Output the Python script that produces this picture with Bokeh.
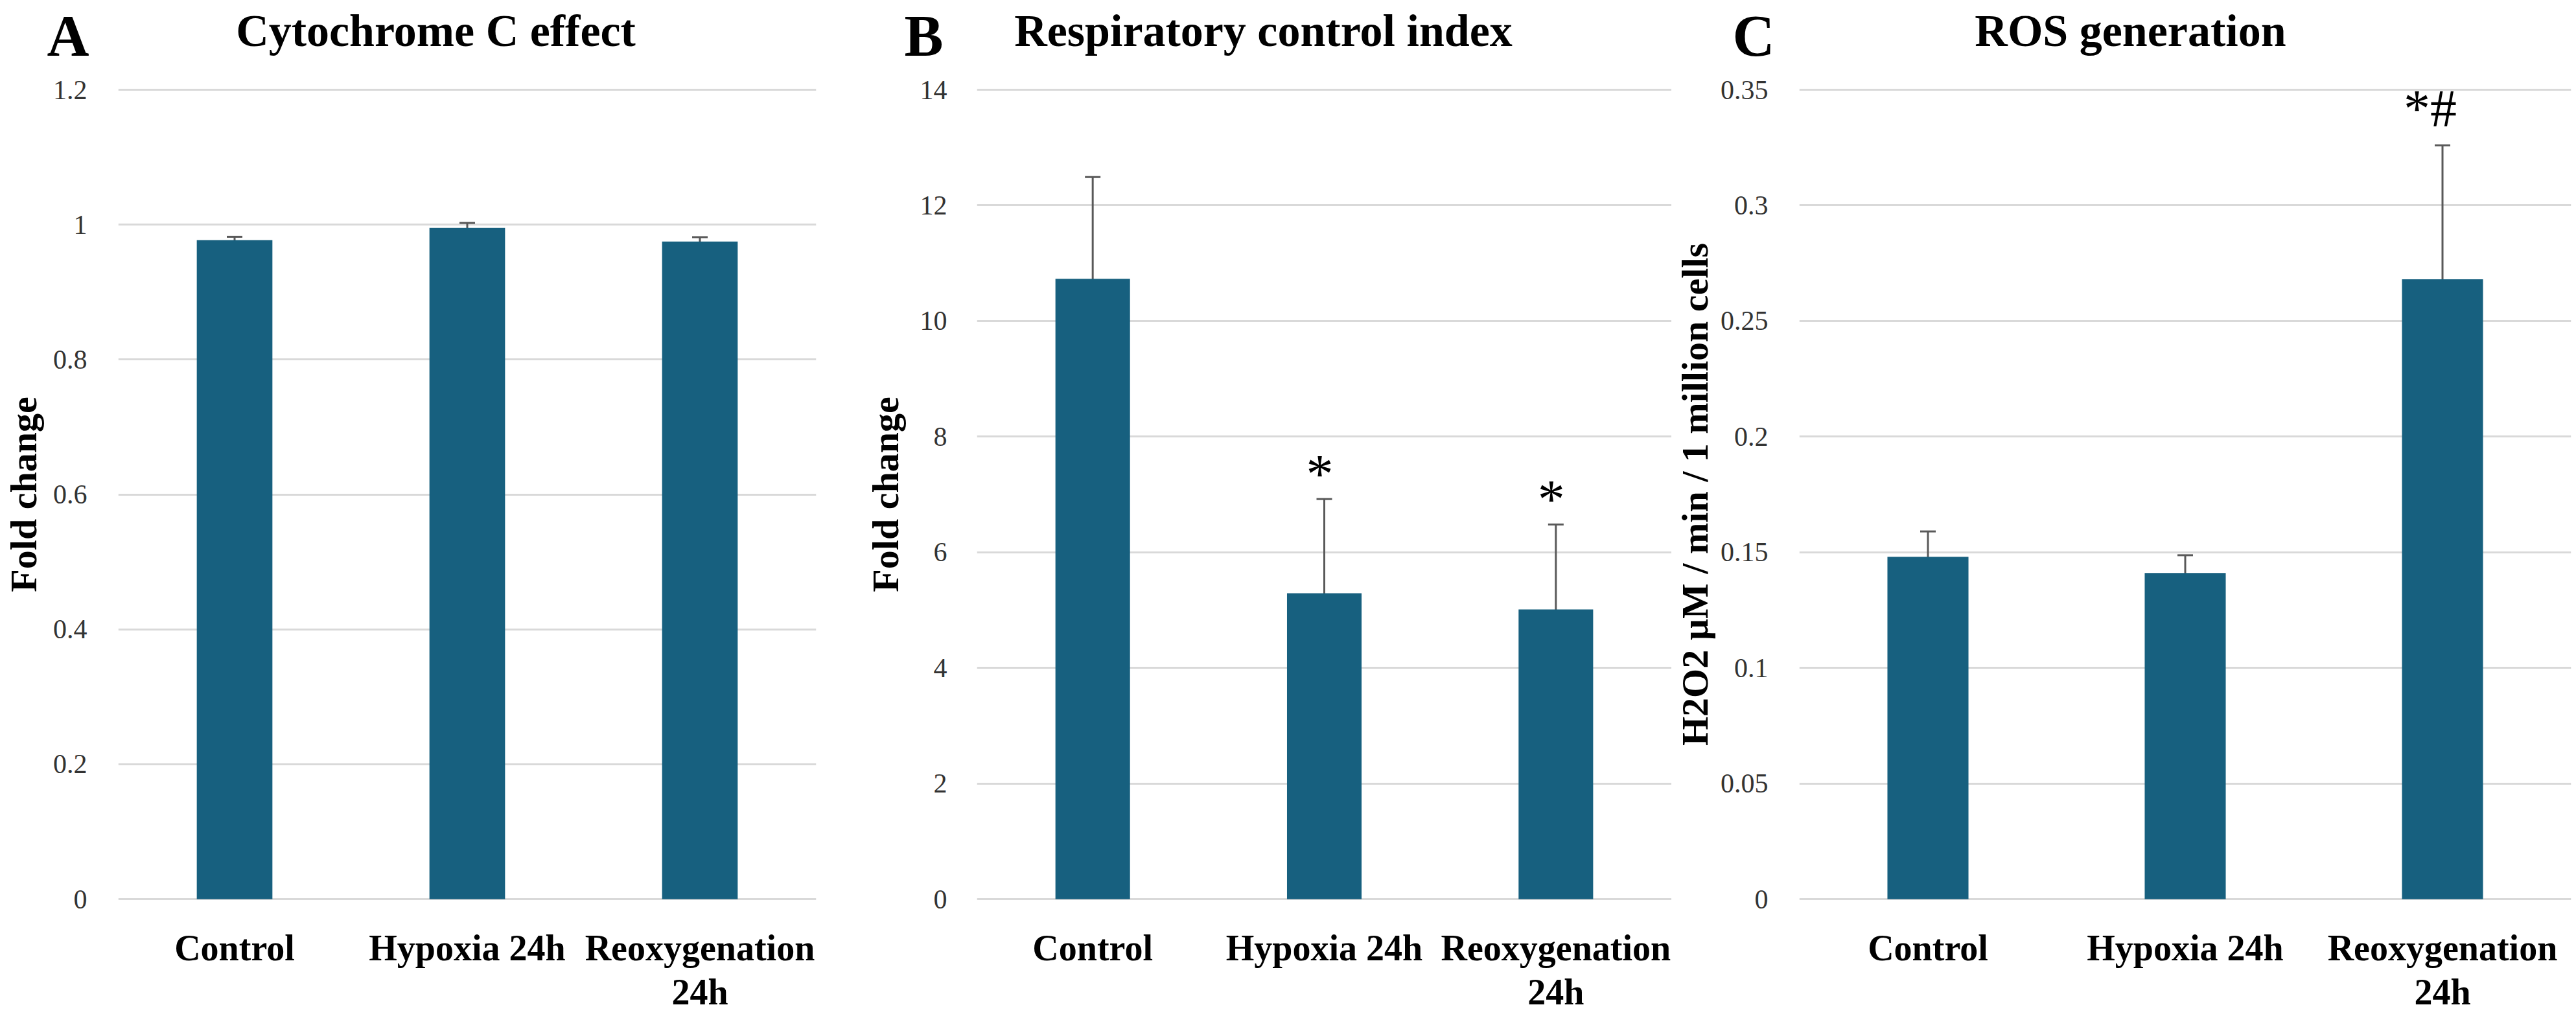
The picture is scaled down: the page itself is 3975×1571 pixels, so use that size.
from bokeh.plotting import figure
from bokeh.models import (ColumnDataSource, Range1d, FixedTicker, Whisker, TeeHead,
                          Label, CustomJSTickFormatter)
from bokeh.layouts import row, column
from bokeh.embed import file_html
from bokeh.resources import INLINE
from bokeh.core.properties import value

# ---------------- data ----------------
categories = ["Control", "Hypoxia 24h", "Reoxygenation\n24h"]

cyto_mean = [0.977, 0.995, 0.975]
cyto_err = [0.005, 0.0075, 0.0065]
cyto_ticks = [0, 0.2, 0.4, 0.6, 0.8, 1, 1.2]
cyto_tick_labels = ["0", "0.2", "0.4", "0.6", "0.8", "1", "1.2"]
cyto_sig = ["", "", ""]

rci_mean = [10.73, 5.29, 5.01]
rci_err = [1.76, 1.63, 1.47]
rci_ticks = [0, 2, 4, 6, 8, 10, 12, 14]
rci_tick_labels = ["0", "2", "4", "6", "8", "10", "12", "14"]
rci_sig = ["", "*", "*"]

ros_mean = [0.148, 0.141, 0.268]
ros_err = [0.011, 0.0077, 0.058]
ros_ticks = [0, 0.05, 0.1, 0.15, 0.2, 0.25, 0.3, 0.35]
ros_tick_labels = ["0", "0.05", "0.1", "0.15", "0.2", "0.25", "0.3", "0.35"]
ros_sig = ["", "", "*#"]

titles = ["Cytochrome C effect", "Respiratory control index", "ROS generation"]
letters = ["A", "B", "C"]
y_labels = ["Fold change", "Fold change", "H2O2 \u00b5M / min / 1 million cells"]

# ---------------- style ----------------
BAR = "#17607f"
ERR = "#595959"
GRID = "#d9d9d9"
FONT = "Liberation Serif"
FRAME_H = 1253          # data area 1249 px plus 2 px each side
HEADER_H = 106
TOP_BORDER = 30
TOTAL_W = 3959


def make_panel(ylabel, means, errs, ticks, tick_labels, sig,
               bar_width, frame_w, b_left, b_right, tick_standoff, label_standoff,
               sig_size, sig_dx, sig_dy):
    pad = (ticks[-1] - ticks[0]) * 2.0 / 1249
    p = figure(x_range=categories, y_range=Range1d(ticks[0] - pad, ticks[-1] + pad),
               frame_width=frame_w, frame_height=FRAME_H,
               min_border_left=b_left, min_border_right=b_right,
               min_border_top=TOP_BORDER, min_border_bottom=150,
               output_backend="svg", toolbar_location=None,
               background_fill_color="white", border_fill_color="white",
               outline_line_color=None)
    upper = [m + e for m, e in zip(means, errs)]
    lower = [m - e for m, e in zip(means, errs)]
    src = ColumnDataSource(dict(cat=categories, mean=means, upper=upper, lower=lower))
    p.vbar(x="cat", top="mean", width=bar_width, source=src,
           fill_color=BAR, line_color=None)
    w = Whisker(base="cat", upper="upper", lower="lower", source=src,
                line_color=ERR, line_width=3,
                upper_head=TeeHead(size=24, line_color=ERR, line_width=3),
                lower_head=TeeHead(size=24, line_color=ERR, line_width=3))
    p.add_layout(w)

    sx = [c for c, s in zip(categories, sig) if s]
    sy = [u for u, s in zip(upper, sig) if s]
    st = [s for s in sig if s]
    if st:
        p.text(x=sx, y=sy, text=st, text_font=value(FONT),
               text_font_size=value(sig_size), text_color="black",
               text_align="center", text_baseline="alphabetic",
               x_offset=sig_dx, y_offset=sig_dy)

    # x axis
    p.xaxis.axis_line_color = None
    p.xaxis.major_tick_line_color = None
    p.xaxis.minor_tick_line_color = None
    p.xaxis.major_label_text_font = FONT
    p.xaxis.major_label_text_font_style = "bold"
    p.xaxis.major_label_text_font_size = "56px"
    p.xaxis.major_label_text_color = "black"
    p.xaxis.major_label_text_line_height = 1.1
    p.xaxis.major_label_standoff = 36

    # y axis
    p.yaxis.ticker = FixedTicker(ticks=ticks)
    p.yaxis.formatter = CustomJSTickFormatter(
        args=dict(tick_vals=ticks, tick_texts=tick_labels),
        code="const i = tick_vals.indexOf(tick); return i >= 0 ? tick_texts[i] : '';")
    p.yaxis.axis_line_color = None
    p.yaxis.major_tick_line_color = None
    p.yaxis.minor_tick_line_color = None
    p.yaxis.major_label_text_font = FONT
    p.yaxis.major_label_text_font_size = "42px"
    p.yaxis.major_label_text_color = "#333333"
    p.yaxis.major_label_standoff = tick_standoff
    p.yaxis.axis_label = ylabel
    p.yaxis.axis_label_text_font = FONT
    p.yaxis.axis_label_text_font_style = "bold"
    p.yaxis.axis_label_text_font_size = "58px"
    p.yaxis.axis_label_text_color = "black"
    p.yaxis.axis_label_standoff = label_standoff

    p.xgrid.grid_line_color = None
    p.ygrid.grid_line_color = GRID
    p.ygrid.grid_line_width = 3
    return p


pA = make_panel(y_labels[0], cyto_mean, cyto_err, cyto_ticks, cyto_tick_labels, cyto_sig,
                0.325, 1077, 174, 71, 42, 10, "80px", -7, -39)
pB = make_panel(y_labels[1], rci_mean, rci_err, rci_ticks, rci_tick_labels, rci_sig,
                0.322, 1072, 170, 0, 40, 18, "84px", -7, -39)
pC = make_panel(y_labels[2], ros_mean, ros_err, ros_ticks, ros_tick_labels, ros_sig,
                0.315, 1191, 188, 16, 42, 4, "82px", -19, -57)

# ---------------- header with panel letters and titles ----------------
header = figure(width=TOTAL_W, height=HEADER_H,
                x_range=Range1d(0, TOTAL_W), y_range=Range1d(0, HEADER_H),
                min_border=0, x_axis_location=None, y_axis_location=None,
                output_backend="svg", toolbar_location=None,
                background_fill_color="white", border_fill_color="white",
                outline_line_color=None)
header.xgrid.grid_line_color = None
header.ygrid.grid_line_color = None

title_cx = [672, 1949, 3287]
letter_lx = [72, 1395, 2673]
for t, cx in zip(titles, title_cx):
    header.add_layout(Label(x=cx, y=HEADER_H + 8 - 67 + 12, text=t, text_align="center",
                            text_baseline="alphabetic", text_font=FONT,
                            text_font_style="bold", text_font_size="70px",
                            text_color="black"))
for l, lx in zip(letters, letter_lx):
    header.add_layout(Label(x=lx, y=HEADER_H + 8 - 85 + 22, text=l, text_align="left",
                            text_baseline="alphabetic", text_font=FONT,
                            text_font_style="bold", text_font_size="90px",
                            text_color="black"))

layout = column(header, row(pA, pB, pC))
open("out.html", "w").write(file_html(layout, INLINE))
